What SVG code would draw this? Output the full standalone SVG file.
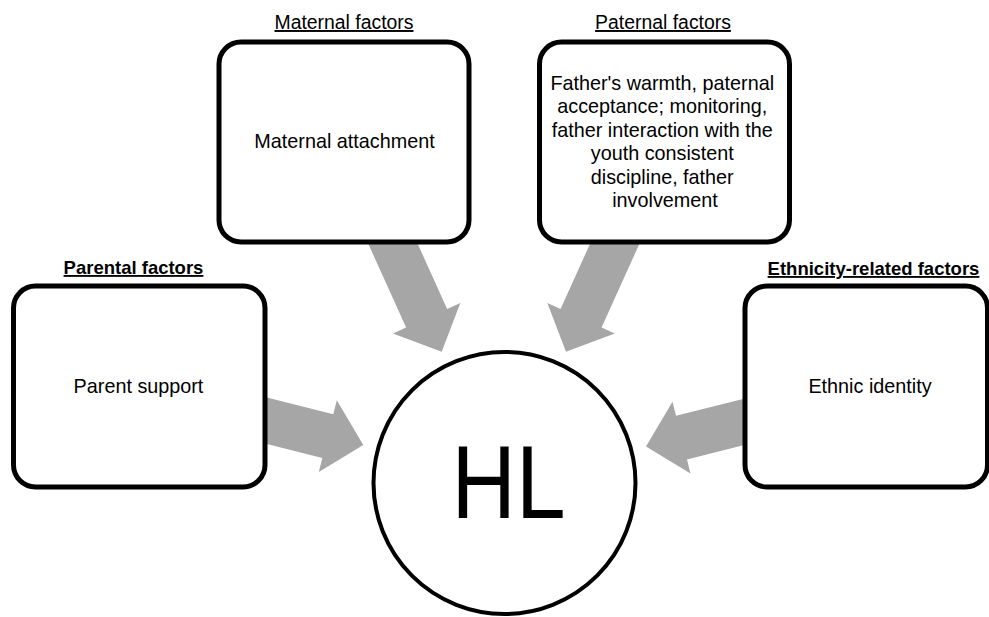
<svg xmlns="http://www.w3.org/2000/svg" xmlns:xlink="http://www.w3.org/1999/xlink" width="989" height="617" viewBox="0 0 989 617">
  <style>
    .box { fill: #ffffff; stroke: #000000; stroke-width: 5; }
    .hub { fill: #ffffff; stroke: #000000; stroke-width: 4; }
    .arrow { fill: #a6a6a6; stroke: none; }
    .label { font-family: "Liberation Sans", Arial, sans-serif; font-size: 19.8px; fill: #000000; text-anchor: middle; }
    .title { font-family: "Liberation Sans", Arial, sans-serif; font-size: 19.4px; fill: #000000; text-anchor: middle; text-decoration: underline; }
    .title-bold { font-weight: bold; font-size: 18.5px; }
    .hl { font-family: "Liberation Sans", Arial, sans-serif; font-size: 104px; fill: #000000; text-anchor: middle; }
  </style>
  <defs>
    <!-- block arrow, tip at origin, pointing along +x -->
    <path id="block-arrow" d="M 0 0 L -36.6 -37 L -36.6 -22.5 L -135 -22.5 L -135 22.5 L -36.6 22.5 L -36.6 37 Z"/>
  </defs>

  <rect width="989" height="617" fill="#ffffff"/>

  <!-- connectors: block arrows into the hub -->
  <g id="connectors" class="arrow">
    <use xlink:href="#block-arrow" transform="translate(441.7 351.7) rotate(65.7)"/>
    <use xlink:href="#block-arrow" transform="translate(566 351.7) rotate(114.3)"/>
    <use xlink:href="#block-arrow" transform="translate(363.3 445) rotate(14.1)"/>
    <use xlink:href="#block-arrow" transform="translate(646 446.5) rotate(165.9)"/>
  </g>

  <g id="maternal">
    <text class="title" x="344" y="29">Maternal factors</text>
    <rect class="box" x="219" y="42" width="250" height="200" rx="22" ry="22"/>
    <text class="label" x="344.5" y="148">Maternal attachment</text>
  </g>

  <g id="paternal">
    <text class="title" x="663" y="29">Paternal factors</text>
    <rect class="box" x="539.5" y="42" width="250" height="200" rx="22" ry="22"/>
    <text class="label" x="665">
      <tspan x="665" y="90">Father's warmth, paternal</tspan>
      <tspan x="665" y="113">acceptance; monitoring,</tspan>
      <tspan x="665" y="136.5">father interaction with the</tspan>
      <tspan x="665" y="160">youth consistent</tspan>
      <tspan x="665" y="183.5">discipline, father</tspan>
      <tspan x="665" y="207">involvement</tspan>
    </text>
  </g>

  <g id="parental">
    <text class="title title-bold" x="133.5" y="274">Parental factors</text>
    <rect class="box" x="13.5" y="286" width="251.5" height="201" rx="22" ry="22"/>
    <text class="label" x="138.5" y="393">Parent support</text>
  </g>

  <g id="ethnicity">
    <text class="title title-bold" x="873.5" y="275">Ethnicity-related factors</text>
    <rect class="box" x="745" y="286" width="242.5" height="201" rx="22" ry="22"/>
    <text class="label" x="870" y="393">Ethnic identity</text>
  </g>

  <g id="hl">
    <circle class="hub" cx="504.5" cy="483" r="131"/>
    <text class="hl" x="508.5" y="518" textLength="114" lengthAdjust="spacingAndGlyphs">HL</text>
  </g>
</svg>
